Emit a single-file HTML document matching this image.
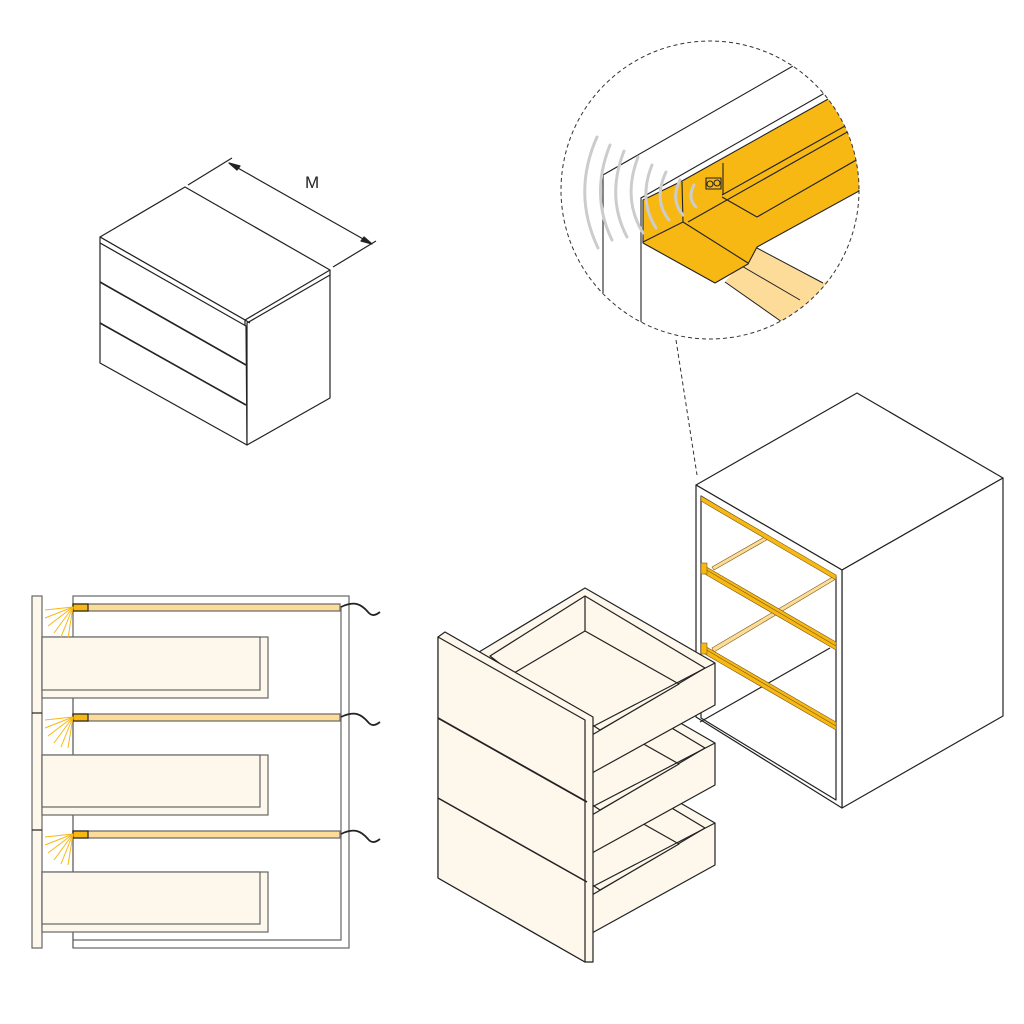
<!DOCTYPE html>
<html><head><style>body{margin:0;background:#fff}svg{display:block}</style></head>
<body>
<svg width="1024" height="1024" viewBox="0 0 1024 1024" xmlns="http://www.w3.org/2000/svg" font-family="Liberation Sans, sans-serif">
<defs>
<clipPath id="c"><circle cx="710" cy="190" r="149"/></clipPath>
<g id="rays" stroke="#f8b814" stroke-width="1">
<line x1="73" y1="607" x2="45" y2="610"/><line x1="73" y1="607" x2="45" y2="618"/><line x1="73" y1="607" x2="48" y2="626"/><line x1="73" y1="607" x2="54" y2="633"/><line x1="73" y1="607" x2="61" y2="637"/><line x1="73" y1="607" x2="68" y2="638"/>
</g>
<g id="box" stroke="#222" stroke-width="1.2" fill="#fdf7ec" stroke-linejoin="round">
<polygon points="479,652 585,588 715,663 715,705 592,773 592,727"/>
<polygon points="490,656 585,596 705,668 592,735"/>
<polygon points="514,673 585,631 679,684 600,730"/>
<line x1="585" y1="596" x2="585" y2="631"/>
<line x1="592" y1="727" x2="715" y2="663"/>
</g>
</defs>
<g fill="none" stroke="#222" stroke-width="1.2" stroke-linejoin="round">
<polygon points="100,237 185,187 330,270 245,320" fill="#fff"/>
<polygon points="100,237 245,320 245,326 100,243" fill="#fff"/>
<polygon points="100,243 246,326 247,445 100,363" fill="#fff"/>
<polygon points="247,323 330,275 330,398 247,445" fill="#fff"/>
<line x1="245" y1="320" x2="250" y2="323"/><line x1="330" y1="270" x2="330" y2="275"/>
<line x1="100" y1="282" x2="246" y2="365" stroke-width="1.6"/>
<line x1="100" y1="323" x2="246" y2="405" stroke-width="1.6"/>
<line x1="188" y1="185" x2="232" y2="158"/><line x1="333" y1="267" x2="376" y2="241"/>
<line x1="229" y1="163" x2="372" y2="244"/>
<polygon points="229,163 240,166 237,170" fill="#222"/><polygon points="372,244 361,241 364,237" fill="#222"/>
</g>
<text x="305" y="188" font-size="17" fill="#222">M</text>

<g stroke="#666" stroke-width="1.2" fill="none">
<rect x="73" y="596" width="276" height="352" fill="#fff"/>
<polyline points="341,606 341,940 73,940"/>
<rect x="32" y="596" width="10" height="352" fill="#fdf7ec"/>
<line x1="32" y1="713" x2="42" y2="713" stroke="#222"/><line x1="32" y1="830" x2="42" y2="830" stroke="#222"/>
<rect x="42" y="637" width="226" height="61" fill="#fdf7ec"/><rect x="42" y="637" width="218" height="53" fill="#fdf7ec"/>
<rect x="42" y="755" width="226" height="60" fill="#fdf7ec"/><rect x="42" y="755" width="218" height="52" fill="#fdf7ec"/>
<rect x="42" y="872" width="226" height="60" fill="#fdf7ec"/><rect x="42" y="872" width="218" height="52" fill="#fdf7ec"/>
<line x1="73" y1="698" x2="73" y2="755"/><line x1="73" y1="815" x2="73" y2="872"/><line x1="73" y1="932" x2="73" y2="948"/>
<rect x="73" y="604" width="267" height="7" fill="#fddc9a"/>
<rect x="73" y="714" width="267" height="7" fill="#fddc9a"/>
<rect x="73" y="831" width="267" height="7" fill="#fddc9a"/>
</g>
<g stroke="#222" stroke-width="1.2" fill="#f8b814">
<rect x="73" y="604" width="15" height="7"/><rect x="73" y="714" width="15" height="7"/><rect x="73" y="831" width="15" height="7"/>
</g>
<use href="#rays"/><use href="#rays" transform="translate(0,110)"/><use href="#rays" transform="translate(0,227)"/>
<g stroke="#222" stroke-width="1.8" fill="none">
<path d="M341,607 C355,600 362,605 368,612 C372,617 376,615 380,612"/>
<path d="M341,717 C355,710 362,715 368,722 C372,727 376,725 380,722"/>
<path d="M341,834 C355,827 362,832 368,839 C372,844 376,842 380,839"/>
</g>

<g stroke="#222" stroke-width="1.2" fill="#fff" stroke-linejoin="round">
<polygon points="696,485 857,393 1003,478 842,570"/>
<polygon points="842,570 1003,478 1003,716 842,808"/>
<polygon points="696,485 842,570 842,808 696,717"/>
<polygon points="701,496 836,577 836,800 701,718"/>
<line x1="830" y1="648" x2="700" y2="722"/>
</g>
<g stroke="#7a5a10" stroke-width="0.6">
<polygon points="712,567 768,535 770,538 714,570" fill="#fddc9a"/>
<polygon points="712,648 836,575 836,579 714,652" fill="#fddc9a"/>
<polygon points="701,496 836,575 836,580 701,501" fill="#f8b814"/>
<polygon points="703,565 836,642 836,650 703,573" fill="#f8b814"/>
<polygon points="703,645 836,722 836,730 703,653" fill="#f8b814"/>
<line x1="705" y1="569" x2="836" y2="646"/><line x1="705" y1="649" x2="836" y2="726"/>
<rect x="701" y="563" width="6" height="11" fill="#f8b814"/><rect x="701" y="643" width="6" height="11" fill="#f8b814"/>
</g>

<use href="#box" transform="translate(0,160)"/>
<use href="#box" transform="translate(0,80)"/>
<use href="#box"/>
<g stroke="#222" stroke-width="1.2" fill="#fdf7ec" stroke-linejoin="round">
<polygon points="438,637 445,632 593,717 593,962 585,962 438,878"/>
<polygon points="438,637 585,720 585,962 438,878"/>
<line x1="438" y1="718" x2="587" y2="802" stroke-width="1.8"/>
<line x1="438" y1="798" x2="587" y2="882" stroke-width="1.5"/>
</g>

<g clip-path="url(#c)">
<g stroke="#222" stroke-width="1.1" fill="none">
<polyline points="603,293 603,175 800,62"/>
<polyline points="641,340 641,198 830,90"/>
</g>
<polygon points="755,247 725,282 782,322 830,300 860,260 823,283" fill="#fddc9a"/>
<line x1="740" y1="265" x2="800" y2="300" stroke="#222" stroke-width="1"/>
<line x1="725" y1="282" x2="782" y2="322" stroke="#222" stroke-width="1"/>
<line x1="755" y1="247" x2="823" y2="283" stroke="#222" stroke-width="1"/>
<g stroke="#222" stroke-width="1.1" fill="#f8b814" stroke-linejoin="round">
<polygon points="643,200 682,181 830,98 870,100 870,185 757,247 748,264 715,283 643,243"/>
<polyline points="682,182 683,222 748,263" fill="none"/>
<line x1="643" y1="242" x2="683" y2="222"/>
<line x1="723" y1="163" x2="723" y2="195"/>
<line x1="722" y1="195" x2="845" y2="126"/>
<line x1="722" y1="197" x2="757" y2="217"/>
<line x1="688" y1="222" x2="865" y2="122"/>
<line x1="757" y1="217" x2="865" y2="155"/>
<rect x="706" y="178" width="15" height="11" fill="#f8b814"/>
</g>
<circle cx="710" cy="184" r="3" fill="none" stroke="#222"/><circle cx="717" cy="183" r="3" fill="none" stroke="#222"/>
<g stroke="#ccc" stroke-width="3" fill="none" stroke-linecap="round">
<path d="M597,137 Q572,193 598,248"/>
<path d="M610,145 Q590,195 612,240"/>
<path d="M624,151 Q606,197 627,237"/>
<path d="M638,157 Q622,199 643,233"/>
<path d="M652,165 Q638,200 656,228"/>
<path d="M666,172 Q653,200 669,220"/>
<path d="M680,180 Q670,200 683,215"/>
<path d="M694,185 Q687,198 696,207"/>
</g>
</g>
<circle cx="710" cy="190" r="149" fill="none" stroke="#333" stroke-width="1" stroke-dasharray="4,3"/>
<line x1="676" y1="340" x2="697" y2="475" stroke="#333" stroke-width="1" stroke-dasharray="4,3"/>
</svg>
</body></html>
